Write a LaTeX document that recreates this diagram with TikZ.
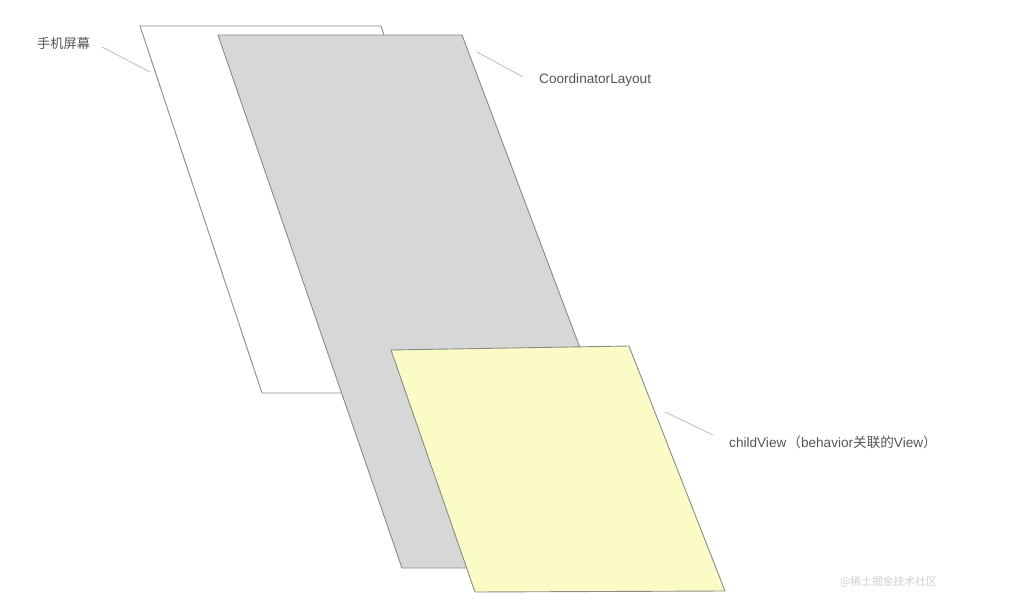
\documentclass[tikz,border=0pt]{standalone}
\usepackage{fontspec}
\setmainfont{Liberation Sans}
\newfontfamily\cjk{Noto Sans CJK SC}
\definecolor{edge}{HTML}{8A8A8A}
\definecolor{lead}{HTML}{C2C2C2}
\definecolor{grayfill}{HTML}{D7D7D7}
\definecolor{yelfill}{HTML}{FBFBC6}
\definecolor{txt}{HTML}{555555}
\definecolor{wm}{HTML}{CFCFCF}
\tikzset{
  sheet/.style={draw=edge, line width=0.9pt, line join=round},
  leader/.style={draw=lead, line width=0.9pt},
  lbl/.style={text=txt, font=\fontsize{13.6}{16}\selectfont, inner sep=0pt},
}
\begin{document}
\begin{tikzpicture}[x=1pt,y=-1pt]
\useasboundingbox (0,0) rectangle (1010,615);
% phone screen
\coordinate (s1) at (140,26);
\coordinate (s2) at (381,26);
\coordinate (s3) at (503,393);
\coordinate (s4) at (262,393);
\path[sheet, fill=white] (s1) -- (s2) -- (s3) -- (s4) -- cycle;
% CoordinatorLayout
\coordinate (c1) at (218,35);
\coordinate (c2) at (462,35);
\coordinate (c3) at (663,568);
\coordinate (c4) at (402,568);
\path[sheet, fill=grayfill] (c1) -- (c2) -- (c3) -- (c4) -- cycle;
% childView
\coordinate (y1) at (391,350);
\coordinate (y2) at (629,346);
\coordinate (y3) at (725,591);
\coordinate (y4) at (475,592);
\path[sheet, fill=yelfill] (y1) -- (y2) -- (y3) -- (y4) -- cycle;
% labels
\node[lbl, anchor=west] (lphone) at (37,43) {\cjk\fontsize{13.2}{16}\selectfont 手机屏幕};
\node[lbl, anchor=west] (lcoord) at (539,80) {CoordinatorLayout};
\node[lbl, anchor=west] (lchild) at (729,442) {childView\kern1pt{\cjk （}behavior{\cjk 关联的}View{\cjk ）}};
\node[anchor=west, inner sep=0pt, text=wm, font=\cjk\fontsize{10.8}{12}\selectfont] (wmark) at (840,582) {@稀土掘金技术社区};
% leaders
\coordinate (p1) at (102,47);
\coordinate (p2) at (150,72);
\draw[leader] (p1) -- (p2);
\coordinate (q1) at (477,52);
\coordinate (q2) at (523,77);
\draw[leader] (q1) -- (q2);
\coordinate (r1) at (665,412);
\coordinate (r2) at (713,435);
\draw[leader] (r1) -- (r2);
\end{tikzpicture}
\end{document}
